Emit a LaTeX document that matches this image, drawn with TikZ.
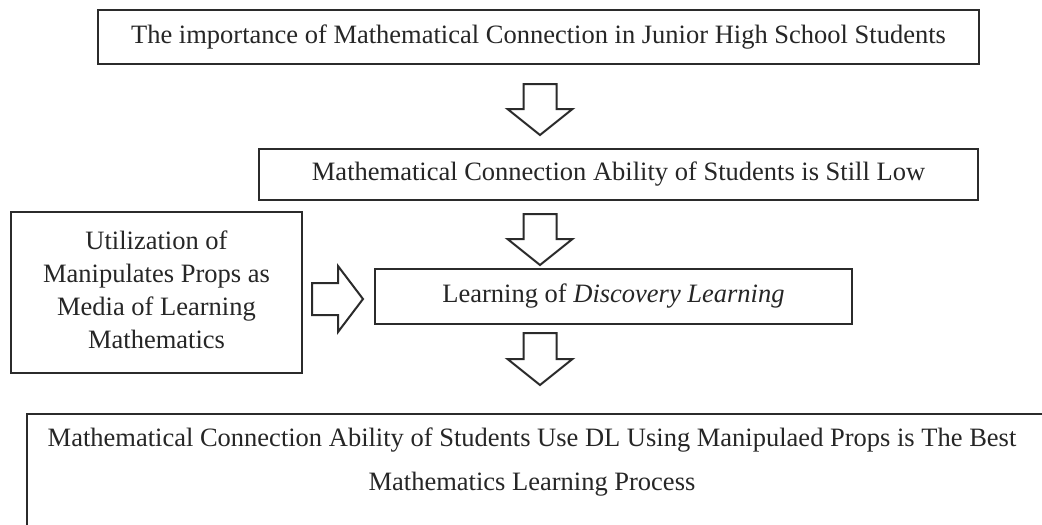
\documentclass[tikz,border=0pt]{standalone}
\usepackage{fontspec}
\setmainfont{Liberation Serif}
\definecolor{ink}{HTML}{262626}
\definecolor{edge}{HTML}{2B2B2B}
\tikzset{
  box/.style={draw=edge, line width=2.2pt, fill=white, text=ink, inner sep=0pt,
              font=\fontsize{26.5}{33}\selectfont, align=center},
  blockarrow/.style={draw=edge, line width=2pt, fill=white, line join=miter},
}
% hollow block arrow pointing down: centre x, top y, tip y
\newcommand{\downblock}[3]{%
  \draw[blockarrow] (#1-16.5,#2) -- (#1+16.5,#2) -- (#1+16.5,#3-26)
    -- (#1+32.5,#3-26) -- (#1,#3) -- (#1-32.5,#3-26) -- (#1-16.5,#3-26) -- cycle;}
\begin{document}
\begin{tikzpicture}[x=1pt,y=-1pt]
\useasboundingbox (0,0) rectangle (1042,525);
\clip (0,0) rectangle (1042,525);
\fill[white] (0,0) rectangle (1042,525);

\node[box, minimum width=881pt, minimum height=54pt] (importance) at (538.5,37)
  {The importance of Mathematical Connection in Junior High School Students};
\node[box, minimum width=719pt, minimum height=51pt] (low) at (618.5,174.5)
  {Mathematical Connection Ability of Students is Still Low};
\node[box, minimum width=477pt, minimum height=55pt] (dl) at (613.5,296.5)
  {Learning of \textit{Discovery Learning}};
\node[box, minimum width=291pt, minimum height=161pt] (props) at (156.5,292.5) {};
\node[text=ink, inner sep=0pt, align=center, font=\fontsize{26.5}{33}\selectfont]
  (propstext) at (156.5,289.5)
  {Utilization of\\Manipulates Props as\\Media of Learning\\Mathematics};
\node[box, minimum width=1040pt, minimum height=140pt, anchor=north west] (result) at (26,413) {};
\node[text=ink, inner sep=0pt, align=center, font=\fontsize{26.5}{44}\selectfont] (resulttext) at (532,462)
  {Mathematical Connection Ability of Students Use DL Using Manipulaed Props is The Best\\
   Mathematics Learning Process};

% block arrows between the boxes
\downblock{540}{84}{135}
\downblock{540}{214}{265}
\downblock{540}{333}{385}
\draw[blockarrow] (312,283) -- (338,283) -- (338,266) -- (363,299)
  -- (338,332) -- (338,315) -- (312,315) -- cycle;
\end{tikzpicture}
\end{document}
